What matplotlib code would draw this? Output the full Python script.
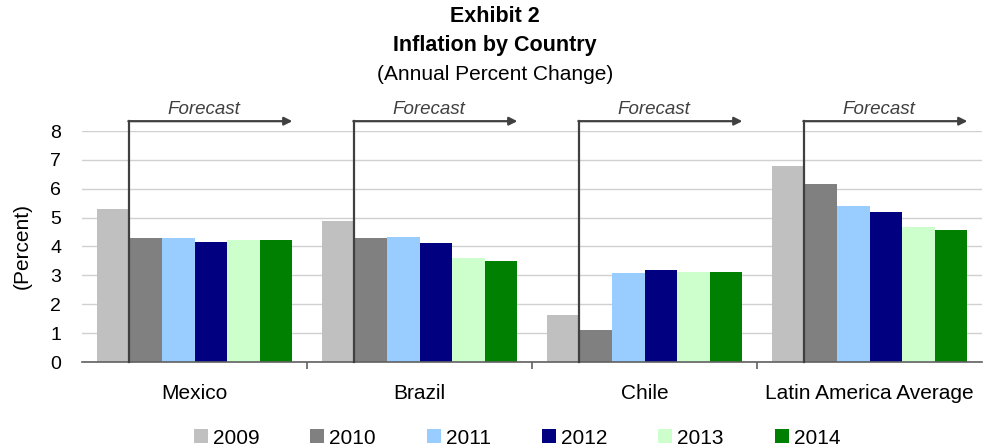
import numpy as np
import matplotlib.pyplot as plt

plt.rcParams['font.family'] = ['Liberation Sans', 'DejaVu Sans']

countries = ['Mexico', 'Brazil', 'Chile', 'Latin America Average']
years = ['2009', '2010', '2011', '2012', '2013', '2014']
colors = ['#C0C0C0', '#808080', '#99CCFF', '#000080', '#CCFFCC', '#008000']

infl_2009 = [5.29, 4.90, 1.64, 6.78]
infl_2010 = [4.28, 4.28, 1.12, 6.16]
infl_2011 = [4.29, 4.33, 3.07, 5.39]
infl_2012 = [4.14, 4.12, 3.17, 5.18]
infl_2013 = [4.21, 3.60, 3.13, 4.66]
infl_2014 = [4.21, 3.50, 3.13, 4.56]
series = [infl_2009, infl_2010, infl_2011, infl_2012, infl_2013, infl_2014]

fig = plt.figure(figsize=(9.9, 4.48), dpi=100)
ax = fig.add_axes([82 / 990, 1 - 362 / 448, 900 / 990, 231 / 448])

x = np.arange(len(countries))
w = 0.145
for j, (vals, c, yr) in enumerate(zip(series, colors, years)):
    ax.bar(x + (j - 2.5) * w, vals, width=w, color=c, label=yr, zorder=2)

ax.set_xlim(-0.5, 3.5)
ax.set_ylim(0, 8)
ax.set_yticks(range(0, 9))
ax.yaxis.grid(True, color='#D0D0D0', lw=1, zorder=0)
ax.tick_params(axis='y', length=0, pad=15, labelsize=14)

# category boundaries as major ticks, labels on minor ticks
ax.set_xticks([0.5, 1.5, 2.5])
ax.set_xticklabels([])
ax.set_xticks(x, minor=True)
ax.set_xticklabels(countries, minor=True)
ax.tick_params(axis='x', which='major', length=5, width=1.2, color='#606060')
ax.tick_params(axis='x', which='minor', length=0, pad=16, labelsize=15)

for s in ['left', 'right', 'top']:
    ax.spines[s].set_visible(False)
ax.spines['bottom'].set_color('#606060')
ax.spines['bottom'].set_linewidth(1.2)

fig.text(22 / 990, 1 - 246 / 448, '(Percent)', rotation=90, ha='center',
         va='center', fontsize=15)

# forecast markers
for xi in x:
    x0 = xi - 2 * w
    x1 = xi + 3 * w
    ax.plot([x0, x0], [0, 8.34], color='#404040', lw=1.6, clip_on=False, zorder=3)
    ax.annotate('', xy=(x1, 8.34), xytext=(x0 - 0.004, 8.34),
                arrowprops=dict(arrowstyle='-|>', color='#404040', lw=1.6,
                                mutation_scale=12, shrinkA=0, shrinkB=0),
                annotation_clip=False)
    ax.text(xi + 0.04, 8.75, 'Forecast', ha='center', va='center',
            style='italic', fontsize=13.5, color='#404040')

fig.text(0.5, 1 - 17 / 448, 'Exhibit 2', ha='center', va='center',
         fontsize=15.5, fontweight='bold')
fig.text(0.5, 1 - 46 / 448, 'Inflation by Country', ha='center', va='center',
         fontsize=15.5, fontweight='bold')
fig.text(0.5, 1 - 74 / 448, '(Annual Percent Change)', ha='center', va='center',
         fontsize=15)

fig.legend(loc='center', bbox_to_anchor=(517 / 990, 1 - 438 / 448), ncol=6,
           frameon=False, fontsize=15, handlelength=0.67, handleheight=0.63,
           handletextpad=0.24, columnspacing=2.45, borderpad=0)

fig.savefig('out.png', dpi=100)
